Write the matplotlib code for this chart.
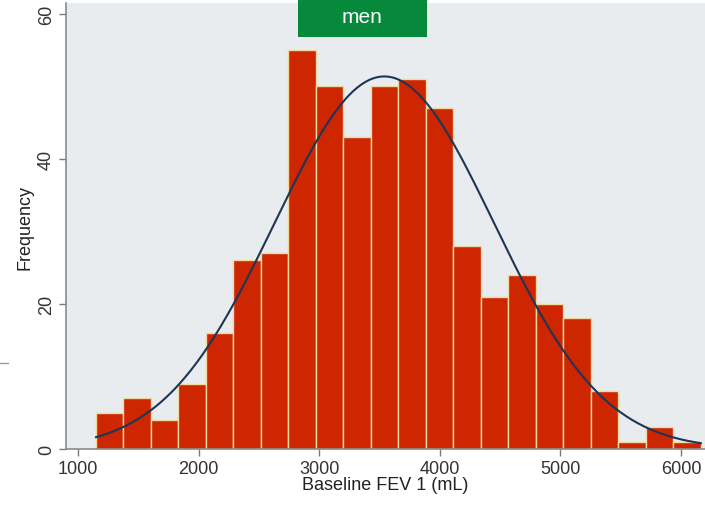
import numpy as np
import matplotlib.pyplot as plt
from matplotlib.patches import Rectangle

# histogram data
bin_start = 1149
bin_width = 228
counts = [5, 7, 4, 9, 16, 26, 27, 55, 50, 43, 50, 51, 47, 28, 21, 24, 20, 18, 8, 1, 3, 1]
# normal curve parameters (estimated)
fev_mean = 3540
fev_sd = 910
x_ticks = [1000, 2000, 3000, 4000, 5000, 6000]
y_ticks = [0, 20, 40, 60]

plt.rcParams['font.family'] = ['Liberation Sans', 'DejaVu Sans']

fig = plt.figure(figsize=(7.05, 5.06), dpi=100)
ax = fig.add_axes([0.0936, 0.1107, 0.9064, 0.8813])
ax.set_facecolor('#E8ECEE')

edges = bin_start + bin_width * np.arange(len(counts) + 1)
ax.bar(edges[:-1], counts, width=bin_width, align='edge',
       color='#CD2600', edgecolor='#EED9A0', linewidth=1.0, zorder=2)

n = sum(counts)
xs = np.linspace(edges[0], edges[-1], 300)
ys = n * bin_width * np.exp(-0.5 * ((xs - fev_mean) / fev_sd) ** 2) / (fev_sd * np.sqrt(2 * np.pi))
ax.plot(xs, ys, color='#1E3557', linewidth=1.5, zorder=3)

ax.set_xlim(900, 6200)
ax.set_ylim(0, 61.5)
ax.set_xticks(x_ticks)
ax.set_yticks(y_ticks)
ax.tick_params(axis='both', colors='#7A7A7A', length=5, width=1, labelcolor='#333333',
               labelsize=13, pad=3)
for lab in ax.get_yticklabels():
    lab.set_rotation(90)
    lab.set_va('center')

for side in ['top', 'right']:
    ax.spines[side].set_visible(False)
for side in ['left', 'bottom']:
    ax.spines[side].set_color('#8A8A8A')
    ax.spines[side].set_linewidth(1.2)

ax.set_xlabel('Baseline FEV 1 (mL)', fontsize=13, color='#222222', labelpad=-1)
ax.set_ylabel('Frequency', fontsize=13, color='#222222', labelpad=3)

# green title box
fig.patches.append(Rectangle((0.4227, 0.925), 0.183, 0.075, transform=fig.transFigure,
                             facecolor='#06893B', edgecolor='none', zorder=5))
fig.text(0.514, 0.966, 'men', color='white', fontsize=15, ha='center', va='center', zorder=6)

# small stray tick at left edge
fig.add_artist(plt.Line2D([0.0, 0.011], [0.281, 0.281], transform=fig.transFigure,
                          color='#9A9A9A', linewidth=1))

fig.savefig('out.png', dpi=100)
